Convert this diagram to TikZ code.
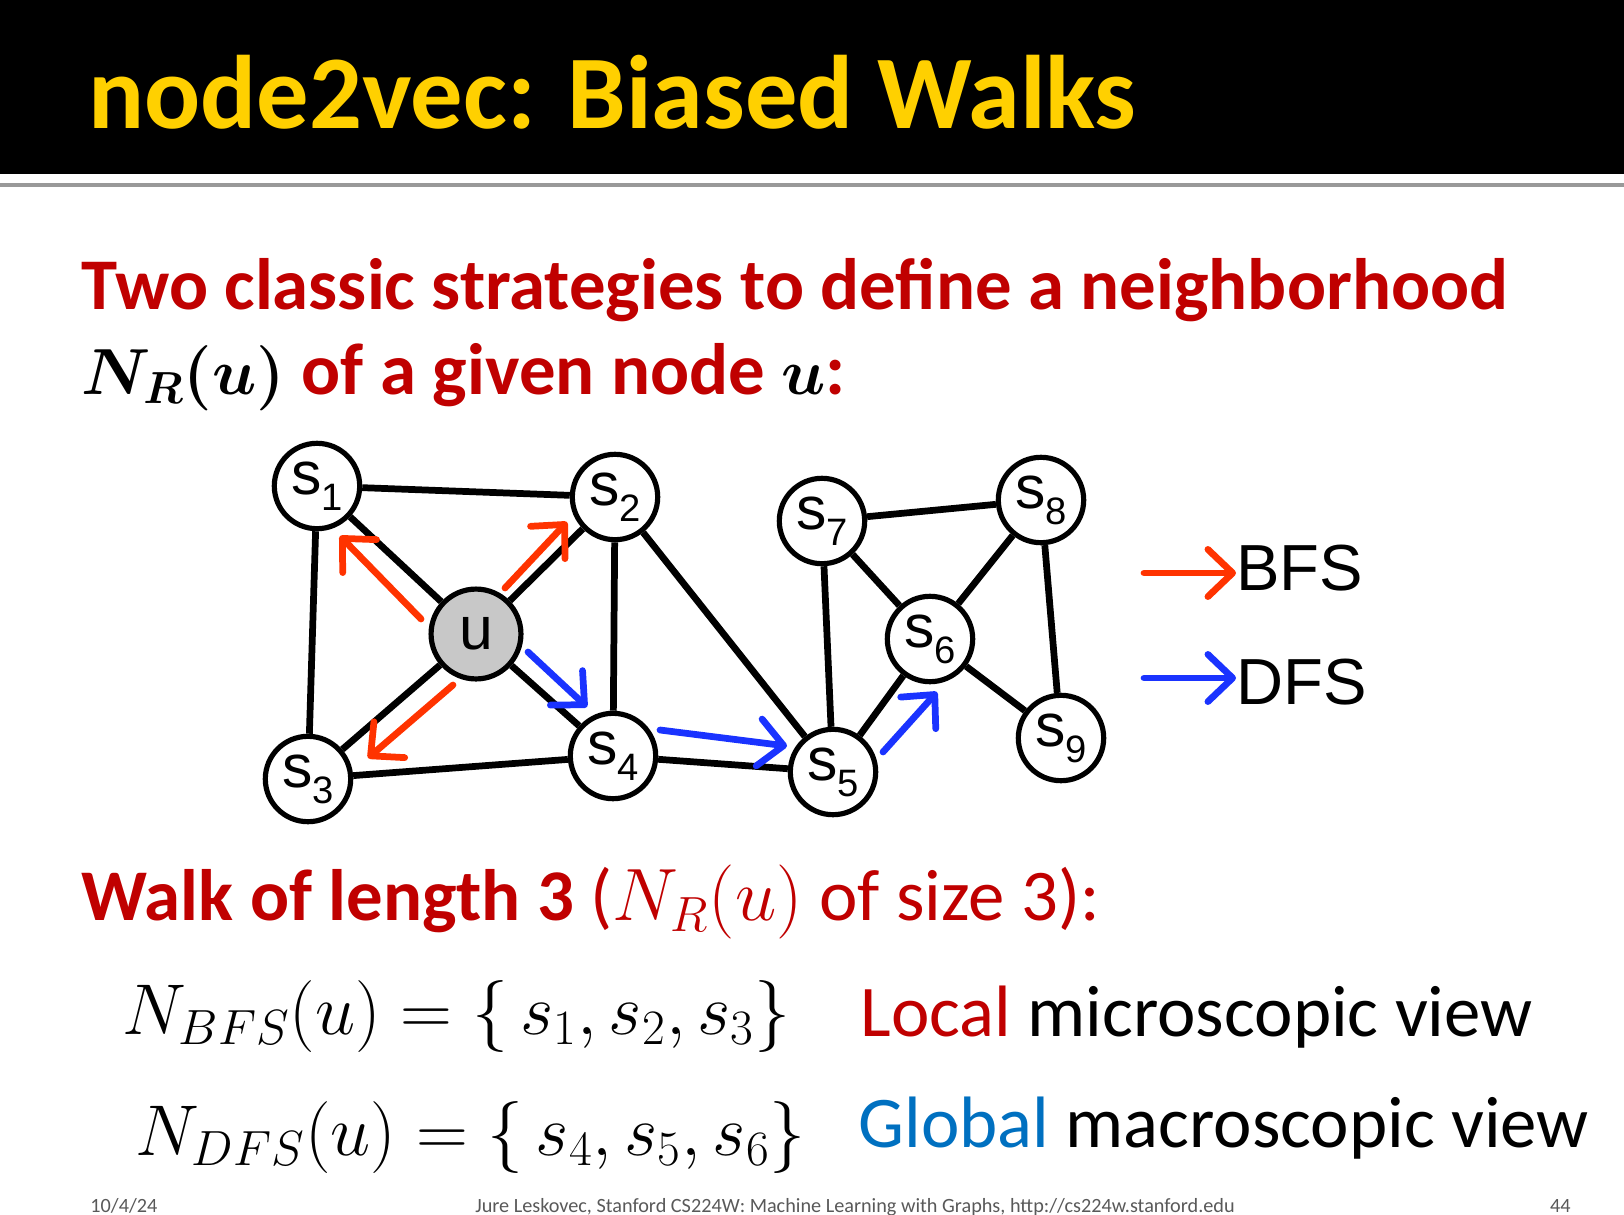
\RequirePackage{fix-cm}
\documentclass[tikz,border=0pt]{standalone}
\usepackage{amsmath}
\usepackage{fontspec}
\setmainfont{Carlito}
\newfontfamily\arialf{Liberation Sans}
\usetikzlibrary{positioning, arrows.meta}
\DeclareMathSizes{29}{29}{20}{15}
\DeclareMathSizes{32}{32}{22}{16}
\DeclareMathSizes{33}{33}{22}{16}
\definecolor{titleY}{RGB}{255,208,0}
\definecolor{headR}{RGB}{192,0,0}
\definecolor{bfsR}{RGB}{255,51,0}
\definecolor{dfsB}{RGB}{26,51,255}
\definecolor{globB}{RGB}{0,112,192}
\definecolor{footG}{RGB}{89,89,89}
\definecolor{uGray}{RGB}{200,200,200}
% graph label: s with a lowered index
\newcommand{\sv}[1]{s\raisebox{-0.5ex}{\fontsize{17}{17}\selectfont #1}}
% math inside the headings, at its own size
\newcommand{\hdmath}[2]{{\fontsize{#1}{40}\selectfont #2}}

\begin{document}
\begin{tikzpicture}[
  x=0.44501pt, y=-0.44501pt,
  snode/.style={circle, draw=black, line width=2.3pt, fill=white,
                minimum size=38pt, inner sep=0pt,
                font=\arialf\fontsize{27}{27}\selectfont},
  unode/.style={snode, fill=uGray, minimum size=40pt},
  lnk/.style={line width=3pt, black},
  bfsarr/.style={-{Straight Barb[length=11pt, width=21pt, round]},
                 line width=3pt, bfsR, line cap=round},
  dfsarr/.style={bfsarr, dfsB},
  txt/.style={anchor=base west, inner sep=0pt},
  foot/.style={anchor=base, inner sep=0pt, footG, font=\fontsize{9}{10}\selectfont}
]
\useasboundingbox (0,0) rectangle (1624,1214);
\fill[white] (0,0) rectangle (1624,1214);
% title bar
\fill[black] (0,0) rectangle (1624,174);
\fill[black!40] (0,183) rectangle (1624,187);
\node[txt, titleY, font=\bfseries\fontsize{46.5}{50}\selectfont] (title) at (88,129)
     {node2vec: Biased Walks};

% heading
\node[txt, headR, font=\bfseries\fontsize{32.4}{38}\selectfont] (head1) at (81,309)
     {Two classic strategies to define a neighborhood};
\node[txt, headR, font=\bfseries\fontsize{32.4}{38}\selectfont] (head2) at (81,394)
     {\textcolor{black}{\hdmath{29}{\boldmath$N_R(u)$}} of a given node \textcolor{black}{\hdmath{29}{\boldmath$u$}}:};

% graph
\node[snode] (s1) at (317,486) {\sv{1}};
\node[snode] (s2) at (615,497) {\sv{2}};
\node[unode] (u)  at (476,634) {u};
\node[snode] (s3) at (308,779) {\sv{3}};
\node[snode] (s4) at (613,756) {\sv{4}};
\node[snode] (s5) at (833,772) {\sv{5}};
\node[snode] (s6) at (930,639) {\sv{6}};
\node[snode] (s7) at (822,521) {\sv{7}};
\node[snode] (s8) at (1041,500) {\sv{8}};
\node[snode] (s9) at (1061,738) {\sv{9}};

\draw[lnk] (s1) -- (s2);
\draw[lnk] (s1) -- (u);
\draw[lnk] (s1) -- (s3);
\draw[lnk] (s2) -- (u);
\draw[lnk] (s2) -- (s4);
\draw[lnk] (s2) -- (s5);
\draw[lnk] (u) -- (s3);
\draw[lnk] (u) -- (s4);
\draw[lnk] (s3) -- (s4);
\draw[lnk] (s4) -- (s5);
\draw[lnk] (s5) -- (s7);
\draw[lnk] (s5) -- (s6);
\draw[lnk] (s6) -- (s7);
\draw[lnk] (s7) -- (s8);
\draw[lnk] (s6) -- (s8);
\draw[lnk] (s6) -- (s9);
\draw[lnk] (s8) -- (s9);

% walk arrows
\coordinate (b1a) at (421,619); \coordinate (b1b) at (340,536);
\coordinate (b2a) at (505,588); \coordinate (b2b) at (567,522);
\coordinate (b3a) at (453,685); \coordinate (b3b) at (368,758);
\coordinate (d1a) at (528,652); \coordinate (d1b) at (587,707);
\coordinate (d2a) at (660,730); \coordinate (d2b) at (787,746);
\coordinate (d3a) at (883,752); \coordinate (d3b) at (937,692);
\draw[bfsarr] (b1a) -- (b1b);
\draw[bfsarr] (b2a) -- (b2b);
\draw[bfsarr] (b3a) -- (b3b);
\draw[dfsarr] (d1a) -- (d1b);
\draw[dfsarr] (d2a) -- (d2b);
\draw[dfsarr] (d3a) -- (d3b);

% legend
\node[txt, font=\arialf\fontsize{29}{32}\selectfont] (bfs) at (1236,590) {BFS};
\node[txt, font=\arialf\fontsize{29}{32}\selectfont] (dfs) at (1236,704) {DFS};
\coordinate (lb) at (1144,573);
\coordinate (ld) at (1144,678);
\draw[bfsarr] (lb) -- (bfs.west |- lb);
\draw[dfsarr] (ld) -- (dfs.west |- ld);

% walk of length 3
\node[txt, headR, font=\fontsize{32.4}{38}\selectfont] (walk) at (81,920)
     {\textbf{Walk of length 3} (\hdmath{33}{$N_R(u)$} of size 3):};
\node[txt, font=\fontsize{32}{40}\selectfont] (nbfs) at (122,1034)
     {$N_{BFS}(u) = \{\,s_1, s_2, s_3\}$};
\node[txt, font=\fontsize{32}{40}\selectfont] (ndfs) at (135,1155)
     {$N_{DFS}(u) = \{\,s_4, s_5, s_6\}$};
\node[txt, font=\fontsize{32.4}{38}\selectfont] (loc) at (860,1036)
     {\textcolor{headR}{Local} microscopic view};
\node[txt, font=\fontsize{32.4}{38}\selectfont] (glob) at (858,1147)
     {\textcolor{globB}{Global} macroscopic view};

% footer
\node[foot, anchor=base west] (date) at (90,1212) {10/4/24};
\node[foot] (cred) at (855,1212)
     {Jure Leskovec, Stanford CS224W: Machine Learning with Graphs, http://cs224w.stanford.edu};
\node[foot, anchor=base east] (pg) at (1571,1212) {44};
\end{tikzpicture}
\end{document}
